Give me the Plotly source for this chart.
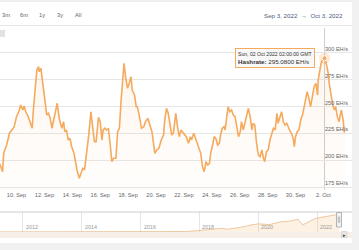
import pandas as pd
import plotly.graph_objects as go

# ---------------- data ----------------
BASE = pd.Timestamp("2022-09-08 00:00")
hours = [18, 20, 24, 26, 31, 36, 40, 44, 48, 53,
         55, 59, 61, 64, 68, 72, 75, 77, 80, 83,
         86, 87, 90, 93, 97, 100, 103, 106, 109, 111,
         114, 118, 122, 126, 129, 131, 134, 137, 140, 143,
         147, 152, 156, 159, 162, 165, 169, 172, 176, 178,
         182, 185, 189, 192, 195, 197, 200, 203, 206, 209,
         212, 215, 219, 222, 225, 228, 231, 233, 236, 239,
         242, 245, 247, 251, 254, 256, 259, 263, 267, 270,
         274, 278, 281, 283, 286, 289, 293, 297, 301, 303,
         306, 309, 312, 315, 318, 322, 325, 328, 331, 335,
         340, 344, 347, 349, 353, 357, 361, 365, 368, 371,
         374, 377, 380, 382, 386, 388, 391, 394, 397, 399,
         402, 405, 407, 410, 412, 415, 418, 421, 424, 427,
         430, 433, 435, 438, 441, 444, 447, 450, 453, 455,
         458, 461, 464, 467, 470, 473, 475, 478, 481, 484,
         487, 490, 493, 496, 498, 501, 504, 507, 510, 513,
         516, 519, 521, 524, 526, 528, 531, 534, 537, 540,
         543, 546, 548, 551, 554, 557, 560, 563, 566, 567,
         569, 572, 574, 578, 581, 584, 586, 589, 592, 595,
         597, 600, 603, 605, 607, 610, 612, 613]
hashrate = [197.0, 195.5, 189.3, 206.7, 214.2, 225.4, 228.2, 231.0, 240.6, 246.8,
            251.5, 246.8, 250.6, 245.2, 240.6, 234.4, 229.8, 246.8, 268.6, 284.1,
            287.2, 282.6, 285.7, 271.7, 253.1, 242.2, 243.8, 239.1, 229.8, 234.4,
            242.2, 253.1, 237.5, 229.8, 235.9, 226.6, 228.2, 218.8, 220.4, 212.6,
            206.4, 190.9, 183.1, 187.8, 192.4, 190.9, 206.7, 221.9, 245.2, 234.4,
            217.3, 217.3, 240.0, 235.9, 218.8, 228.2, 229.8, 228.2, 229.8, 215.8,
            198.6, 201.8, 201.8, 226.6, 229.8, 256.2, 274.8, 290.4, 276.4, 267.1,
            271.7, 277.9, 265.5, 260.8, 249.9, 249.9, 242.2, 229.8, 231.3, 235.9,
            239.1, 231.3, 226.6, 218.8, 206.4, 209.5, 211.1, 218.8, 223.5, 237.5,
            248.4, 243.8, 234.4, 223.5, 225.4, 243.8, 231.3, 221.9, 228.2, 225.1,
            221.9, 215.8, 221.9, 218.8, 225.1, 218.8, 212.6, 206.4, 193.9, 189.3,
            198.6, 195.5, 197.1, 206.4, 215.8, 221.9, 220.4, 214.2, 215.8, 223.5,
            229.8, 231.3, 228.2, 240.6, 249.9, 245.2, 246.8, 242.2, 240.6, 231.3,
            221.9, 226.6, 235.9, 228.2, 234.4, 240.6, 248.4, 240.6, 228.2, 234.4,
            232.8, 216.0, 204.9, 203.3, 209.5, 201.8, 198.6, 207.9, 209.5, 218.8,
            223.5, 229.8, 228.2, 243.8, 234.4, 240.6, 245.2, 235.9, 232.8, 234.4,
            229.8, 226.6, 225.1, 220.4, 212.6, 221.9, 226.6, 228.2, 237.5, 242.2,
            249.9, 260.8, 263.9, 257.7, 249.9, 259.2, 268.6, 271.7, 260.8, 274.8,
            282.6, 290.4, 293.0, 295.08, 290.0, 282.0, 271.7, 260.8, 251.5, 246.8,
            249.9, 240.6, 235.9, 242.2, 246.8, 237.5, 226.0, 228.0]

x_tick_dates = ["2022-09-10", "2022-09-12", "2022-09-14", "2022-09-16", "2022-09-18",
                "2022-09-20", "2022-09-22", "2022-09-24", "2022-09-26", "2022-09-28",
                "2022-09-30", "2022-10-02"]
x_tick_text = ["10. Sep", "12. Sep", "14. Sep", "16. Sep", "18. Sep", "20. Sep",
               "22. Sep", "24. Sep", "26. Sep", "28. Sep", "30. Sep", "2. Oct"]
y_ticks = [175, 200, 225, 250, 275, 300]
y_tick_text = ["175 EH/s", "200 EH/s", "225 EH/s", "250 EH/s", "275 EH/s", "300 EH/s"]
range_buttons = ["3m", "6m", "1y", "3y", "All"]
date_range_label = "Sep 3, 2022  \u2192  Oct 3, 2022"
series_name = "Hashrate"
unit = "EH/s"

nav_dates = ["2009-01-03", "2013-01-01", "2014-01-01", "2015-01-01", "2016-01-01",
             "2017-01-01", "2017-07-01", "2018-01-01", "2018-07-01", "2018-10-01",
             "2018-12-15", "2019-04-01", "2019-07-01", "2019-10-01", "2020-01-01",
             "2020-05-15", "2020-08-01", "2020-10-15", "2020-12-15", "2021-03-01",
             "2021-05-10", "2021-07-05", "2021-09-01", "2021-12-01", "2022-03-01",
             "2022-06-01", "2022-08-01", "2022-10-03"]
nav_values = [0, 0.02, 0.01, 0.3, 0.8, 2.5, 6, 20, 40, 50,
              38, 50, 70, 95, 110, 100, 125, 140, 140, 160,
              170, 95, 130, 180, 200, 215, 220, 240]
nav_years = [2012, 2014, 2016, 2018, 2020, 2022]

# ---------------- layout helpers ----------------
W, H = 359, 250
def fx(p):
    return p / W
def fy(p):
    return 1 - p / H

dates = [BASE + pd.Timedelta(hours=h) for h in hours]
hover_idx = hashrate.index(max(hashrate))
hover_date = dates[hover_idx]

LINE = "#f5aa5e"
FONT = "Liberation Sans, Arial, sans-serif"

fig = go.Figure()

fig.add_trace(go.Scatter(
    x=dates, y=hashrate, mode="lines",
    line=dict(color=LINE, width=1.6),
    fill="tozeroy",
    fillgradient=dict(type="vertical", start=172, stop=300,
                      colorscale=[[0, "rgba(247,163,92,0.02)"], [1, "rgba(247,163,92,0.10)"]]),
    xaxis="x", yaxis="y", hoverinfo="skip", showlegend=False))

# hover halo + marker
fig.add_trace(go.Scatter(
    x=[hover_date], y=[hashrate[hover_idx]], mode="markers",
    marker=dict(size=11, color="rgba(247,163,92,0.25)", line=dict(width=0)),
    xaxis="x", yaxis="y", hoverinfo="skip", showlegend=False))
fig.add_trace(go.Scatter(
    x=[hover_date], y=[hashrate[hover_idx]], mode="markers",
    marker=dict(size=5, color=LINE, line=dict(width=1, color="white")),
    xaxis="x", yaxis="y", hoverinfo="skip", showlegend=False))

# navigator series
fig.add_trace(go.Scatter(
    x=pd.to_datetime(nav_dates), y=nav_values, mode="lines",
    line=dict(color="rgba(232,180,125,0.9)", width=0.8),
    fill="tozeroy", fillcolor="rgba(247,190,130,0.22)",
    xaxis="x2", yaxis="y2", hoverinfo="skip", showlegend=False))

x_left = BASE + pd.Timedelta(hours=19.6)
x_right = BASE + pd.Timedelta(hours=625.2)

fig.update_layout(
    width=W, height=H,
    margin=dict(l=0, r=0, t=0, b=0),
    paper_bgcolor="white", plot_bgcolor="rgba(0,0,0,0)",
    font=dict(family=FONT, size=6, color="#666666"),
    xaxis=dict(domain=[0, fx(352)], range=[x_left, x_right],
               tickvals=pd.to_datetime(x_tick_dates), ticktext=x_tick_text,
               tickfont=dict(size=5.6, color="#666666"),
               showgrid=False, zeroline=False, showline=False, ticks="",
               anchor="y"),
    yaxis=dict(domain=[fy(190), fy(28)], range=[172.2, 323.3],
               tickvals=y_ticks, showticklabels=False,
               showgrid=True, gridcolor="#e6e6e6", gridwidth=1,
               zeroline=False, showline=False, ticks="", anchor="x"),
    xaxis2=dict(domain=[0, fx(339.4)], range=[pd.Timestamp("2011-03-24"), pd.Timestamp("2022-10-03")],
                tickvals=[pd.Timestamp(f"{y}-01-01") for y in nav_years],
                showticklabels=False, showgrid=True, gridcolor="#e6e6e6", gridwidth=1,
                zeroline=False, showline=False, ticks="", anchor="y2"),
    yaxis2=dict(domain=[fy(232), fy(212)], range=[0, 270],
                showgrid=False, showticklabels=False, zeroline=False, showline=False,
                ticks="", anchor="x2"),
)

shapes = []
shapes.append(dict(type="rect", xref="paper", yref="paper", x0=fx(352), x1=1, y0=0, y1=1,
                   fillcolor="#f1f1f1", line=dict(width=0), layer="above"))
shapes.append(dict(type="rect", xref="paper", yref="paper", x0=0, x1=fx(352), y0=fy(2), y1=1,
                   fillcolor="#eeeeee", line=dict(width=0)))
shapes.append(dict(type="line", xref="paper", yref="paper", x0=0, x1=fx(352), y0=fy(25.5), y1=fy(25.5),
                   line=dict(color="#e6e6e6", width=1)))
shapes.append(dict(type="rect", xref="paper", yref="paper", x0=0, x1=fx(5), y0=fy(37), y1=fy(30),
                   fillcolor="#e2e2e2", line=dict(width=0)))
shapes.append(dict(type="line", xref="x", yref="paper", x0=hover_date, x1=hover_date,
                   y0=fy(190), y1=fy(28), line=dict(color="#cccccc", width=1), layer="below"))
shapes.append(dict(type="line", xref="paper", yref="paper", x0=0, x1=fx(352), y0=fy(212), y1=fy(212),
                   line=dict(color="#cccccc", width=1)))
shapes.append(dict(type="rect", xref="paper", yref="paper", x0=0, x1=fx(352), y0=fy(238), y1=fy(232),
                   fillcolor="#f6efe8", line=dict(width=0)))
shapes.append(dict(type="rect", xref="paper", yref="paper", x0=0, x1=fx(352), y0=0, y1=fy(243),
                   fillcolor="#f1f1f1", line=dict(width=0)))
shapes.append(dict(type="rect", xref="paper", yref="paper", x0=fx(336.5), x1=fx(341.5), y0=fy(227), y1=fy(212.5),
                   fillcolor="#f2f2f2", line=dict(color="#999999", width=0.7)))
shapes.append(dict(type="line", xref="paper", yref="paper", x0=fx(338.3), x1=fx(338.3), y0=fy(223), y1=fy(216.5),
                   line=dict(color="#999999", width=0.6)))
shapes.append(dict(type="line", xref="paper", yref="paper", x0=fx(339.7), x1=fx(339.7), y0=fy(223), y1=fy(216.5),
                   line=dict(color="#999999", width=0.6)))
shapes.append(dict(type="rect", xref="paper", yref="paper", x0=fx(341.5), x1=fx(347), y0=fy(237.5), y1=fy(231.5),
                   fillcolor="#e6e6e6", line=dict(color="#cccccc", width=0.6)))
fig.update_layout(shapes=shapes)

ann = []
for i, b in enumerate(range_buttons):
    ann.append(dict(text=b, x=fx(6 + 18 * i), y=fy(15), xref="paper", yref="paper",
                    xanchor="center", yanchor="middle", showarrow=False,
                    font=dict(size=5.8, color="#666666")))
ann.append(dict(text=date_range_label, x=fx(345), y=fy(15), xref="paper", yref="paper",
                xanchor="right", yanchor="middle", showarrow=False,
                font=dict(size=6.2, color="#4d5e7c")))
for v, t in zip(y_ticks, y_tick_text):
    ann.append(dict(text=t, x=fx(350), y=v, xref="paper", yref="y",
                    xanchor="right", yanchor="bottom", showarrow=False, yshift=-1,
                    font=dict(size=5.6, color="#666666")))
for yr in nav_years:
    ann.append(dict(text=str(yr), x=pd.Timestamp(f"{yr}-01-01"), y=fy(226.5), xref="x2", yref="paper",
                    xanchor="left", yanchor="middle", showarrow=False, xshift=1,
                    font=dict(size=5.4, color="#999999")))
ann.append(dict(text="\u25B8", x=fx(344.3), y=fy(234.5), xref="paper", yref="paper",
                xanchor="center", yanchor="middle", showarrow=False,
                font=dict(size=5, color="#333333")))
tip = (f"<span style='font-size:5.1px'>{hover_date.strftime('%a, %d %b %Y %H:%M:%S')} GMT</span><br>"
       f"<b>{series_name}:</b> {hashrate[hover_idx]:.4f} {unit}")
ann.append(dict(text=tip, x=fx(235), y=fy(48.5), xref="paper", yref="paper",
                xanchor="left", yanchor="top", align="left", showarrow=False,
                bgcolor="rgba(247,247,247,0.85)", bordercolor=LINE, borderwidth=1, borderpad=2,
                font=dict(size=6.2, color="#333333")))
fig.update_layout(annotations=ann)

fig.write_html("out.html")
